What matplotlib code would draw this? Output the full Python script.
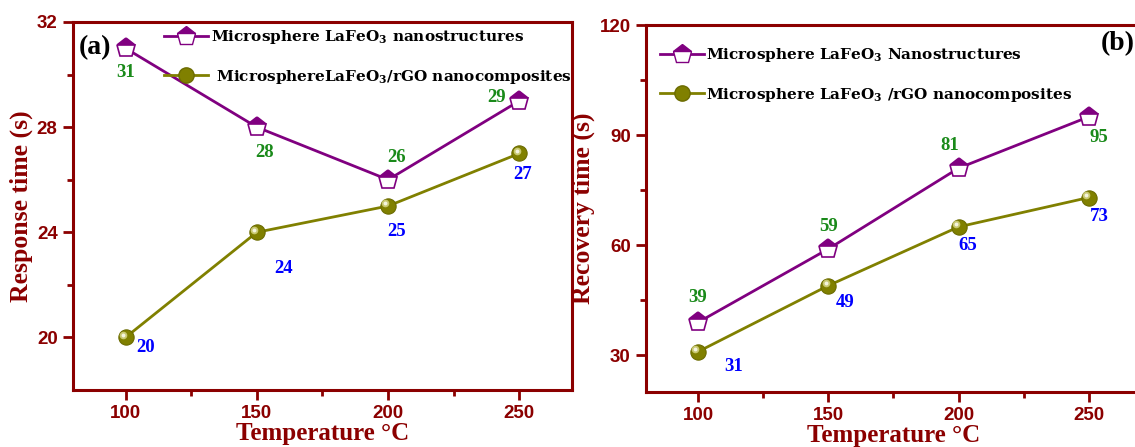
import matplotlib
matplotlib.use("Agg")
import matplotlib.pyplot as plt
from matplotlib.transforms import ScaledTranslation
from matplotlib.lines import Line2D

# ---- data ----
temperature = [100, 150, 200, 250]

response_pure = [31, 28, 26, 29]
response_rgo = [20, 24, 25, 27]

recovery_pure = [39, 59, 81, 95]
recovery_rgo = [31, 49, 65, 73]

legend_a = ["Microsphere LaFeO$_\\mathbf{3}$ nanostructures",
            " MicrosphereLaFeO$_\\mathbf{3}$/rGO nanocomposites"]
legend_b = ["Microsphere LaFeO$_\\mathbf{3}$ Nanostructures",
            "Microsphere LaFeO$_\\mathbf{3}$ /rGO nanocomposites"]

# ---- styling ----
DARK_RED = "#8b0000"
PURPLE = "#800080"
OLIVE = "#808000"
GREEN_TXT = "#1a8a1a"
BLUE_TXT = "#0000ff"
SERIF = "Liberation Serif"
SANS = "Liberation Sans"

plt.rcParams["mathtext.fontset"] = "custom"
plt.rcParams["mathtext.bf"] = "DejaVu Serif:bold"
plt.rcParams["mathtext.rm"] = "DejaVu Serif:bold"

fig = plt.figure(figsize=(11.35, 4.47), dpi=100)
ax_a = fig.add_axes([0.0643, 0.1275, 0.4396, 0.8233])
ax_b = fig.add_axes([0.5692, 0.1230, 0.4360, 0.8210])


def draw_pentagon_series(ax, x, y):
    ax.plot(x, y, color=PURPLE, lw=2, marker="p", ms=14, fillstyle="top",
            markerfacecolor=PURPLE, markerfacecoloralt="white",
            markeredgecolor=PURPLE, markeredgewidth=1.2, zorder=3)


def draw_sphere_series(ax, x, y):
    ax.plot(x, y, color=OLIVE, lw=2, marker="o", ms=11,
            markerfacecolor=OLIVE, markeredgecolor="#6b6b00",
            markeredgewidth=0.8, zorder=3)
    # glossy highlight on each sphere
    shift = ScaledTranslation(-2 / 72, 2 / 72, fig.dpi_scale_trans)
    ax.plot(x, y, ls="none", marker="o", ms=5.5, markerfacecolor="#c8c870",
            markeredgecolor="none", transform=ax.transData + shift, zorder=4)
    ax.plot(x, y, ls="none", marker="o", ms=2.8, markerfacecolor="#f4f4e0",
            markeredgecolor="none", transform=ax.transData + shift, zorder=5)


def label_points(ax, x, y, offsets, color):
    for xi, yi, (dx, dy) in zip(x, y, offsets):
        ax.annotate(f"{yi}", (xi, yi), xytext=(dx, dy),
                    textcoords="offset pixels", ha="center", va="center",
                    color=color, fontsize=13.5, fontweight="bold",
                    family=SERIF, zorder=6)


def style_axes(ax, ylim, yticks, yminor, ylabel):
    ax.set_xlim(80, 270)
    ax.set_ylim(*ylim)
    ax.set_xticks(temperature)
    ax.set_xticks([125, 175, 225], minor=True)
    ax.set_yticks(yticks)
    ax.set_yticks(yminor, minor=True)
    for sp in ax.spines.values():
        sp.set_color(DARK_RED)
        sp.set_linewidth(2.2)
    ax.tick_params(which="major", direction="out", length=7, width=2,
                   color=DARK_RED, labelcolor=DARK_RED, labelsize=13.5, pad=4)
    ax.tick_params(which="minor", direction="out", length=4, width=2,
                   color=DARK_RED)
    for t in ax.get_xticklabels() + ax.get_yticklabels():
        t.set_fontweight("bold")
        t.set_family(SANS)
    ax.set_xlabel("Temperature °C", color=DARK_RED, fontsize=18,
                  fontweight="bold", family=SERIF, labelpad=0)
    ax.set_ylabel(ylabel, color=DARK_RED, fontsize=18.5,
                  fontweight="bold", family=SERIF, labelpad=3)


def handles():
    h1 = Line2D([], [], color=PURPLE, lw=2, marker="p", ms=14, fillstyle="top",
                markerfacecolor=PURPLE, markerfacecoloralt="white",
                markeredgecolor=PURPLE)
    h2 = Line2D([], [], color=OLIVE, lw=2, marker="o", ms=11,
                markerfacecolor=OLIVE, markeredgecolor="#6b6b00")
    return [h1, h2]


# ---- panel (a): response time ----
draw_pentagon_series(ax_a, temperature, response_pure)
draw_sphere_series(ax_a, temperature, response_rgo)
label_points(ax_a, temperature, response_pure,
             [(0, -24), (8, -25), (8, 22), (-23, 3)], GREEN_TXT)
label_points(ax_a, temperature, response_rgo,
             [(20, -10), (27, -36), (8, -26), (3, -21)], BLUE_TXT)
style_axes(ax_a, (18, 32), [20, 24, 28, 32], [22, 26, 30], "Response time (s)")
ax_a.text(0.012, 0.93, "(a)", transform=ax_a.transAxes, fontsize=20,
          fontweight="bold", family=SERIF, color="black", va="center")
ax_a.legend(handles(), legend_a, loc="upper left",
            bbox_to_anchor=(0.155, 1.02), frameon=False, handlelength=2.9,
            handletextpad=0.15, labelspacing=1.4,
            prop={"family": "DejaVu Serif", "weight": "bold", "size": 11})

# ---- panel (b): recovery time ----
draw_pentagon_series(ax_b, temperature, recovery_pure)
draw_sphere_series(ax_b, temperature, recovery_rgo)
label_points(ax_b, temperature, recovery_pure,
             [(-1, 25), (0, 22), (-9, 23), (10, -21)], GREEN_TXT)
label_points(ax_b, temperature, recovery_rgo,
             [(35, -15), (17, -17), (9, -19), (11, -19)], BLUE_TXT)
style_axes(ax_b, (20, 120), [30, 60, 90, 120], [45, 75, 105], "Recovery time (s)")
ax_b.text(0.918, 0.95, "(b)", transform=ax_b.transAxes, fontsize=20,
          fontweight="bold", family=SERIF, color="black", va="center")
ax_b.legend(handles(), legend_b, loc="upper left",
            bbox_to_anchor=(0.0, 0.98), frameon=False, handlelength=2.9,
            handletextpad=0.15, labelspacing=1.4,
            prop={"family": "DejaVu Serif", "weight": "bold", "size": 11})

fig.savefig("out.png", dpi=100)
